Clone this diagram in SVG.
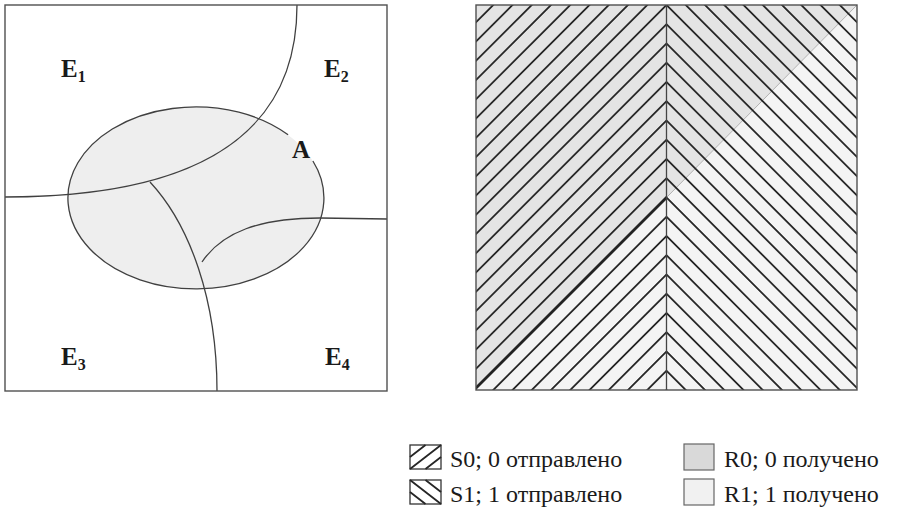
<svg xmlns="http://www.w3.org/2000/svg" width="903" height="521" viewBox="0 0 903 521">
<style>
.bd{fill:none;stroke:#505050;stroke-width:1.4}
.cv{fill:none;stroke:#404040;stroke-width:1.3}
.h{fill:none;stroke:#262626;stroke-width:1.8}
.lb{font-family:"Liberation Serif","Times New Roman",serif;font-weight:bold;font-size:25px;fill:#1a1a1a}
.sb{font-size:16px}
.lg{font-family:"Liberation Serif","Times New Roman",serif;font-size:24px;fill:#1a1a1a}
</style>
<defs>
<clipPath id="cl"><rect x="476" y="5" width="190.5" height="385"/></clipPath>
<clipPath id="cr"><rect x="666.5" y="5" width="190.5" height="385"/></clipPath>
</defs>
<rect width="903" height="521" fill="#ffffff"/>

<g id="left-panel">
<rect x="5" y="5" width="382" height="386" fill="#ffffff"/>
<ellipse id="A-fill" cx="196" cy="198" rx="128" ry="91" fill="#eeeeee"/>
<path class="cv" d="M312.9,161 A128,91 0 1 1 288.1,134.8"/>
<path class="cv" d="M297,5 C297,140 190,197 5,197"/>
<path class="cv" d="M150,182 C190,225 217,300 217,391"/>
<path class="cv" d="M202,262 C222,232 260,218 320,218 L387,219"/>
<rect class="bd" x="5" y="5" width="382" height="386"/>
<text class="lb" x="61" y="77">E<tspan class="sb" dy="5">1</tspan></text>
<text class="lb" x="324" y="77">E<tspan class="sb" dy="5">2</tspan></text>
<text class="lb" x="61" y="365">E<tspan class="sb" dy="5">3</tspan></text>
<text class="lb" x="325" y="365">E<tspan class="sb" dy="5">4</tspan></text>
<text class="lb" x="292" y="158">A</text>
</g>

<g id="right-panel">
<polygon points="476,5 857,5 476,390" fill="#e4e4e4"/>
<polygon points="857,5 857,390 476,390" fill="#f4f4f4"/>
<line x1="666.5" y1="197.5" x2="857" y2="5" stroke="#b0b0b0" stroke-width="1"/>
<path class="h" clip-path="url(#cl)" d="M656.5 400L1056.5 0M637.25 400L1037.25 0M618 400L1018 0M598.75 400L998.75 0M579.5 400L979.5 0M560.25 400L960.25 0M541 400L941 0M521.75 400L921.75 0M502.5 400L902.5 0M483.25 400L883.25 0M444.75 400L844.75 0M425.5 400L825.5 0M406.25 400L806.25 0M387 400L787 0M367.75 400L767.75 0M348.5 400L748.5 0M329.25 400L729.25 0M310 400L710 0M290.75 400L690.75 0M271.5 400L671.5 0M252.25 400L652.25 0M233 400L633 0M213.75 400L613.75 0M194.5 400L594.5 0M175.25 400L575.25 0M156 400L556 0M136.75 400L536.75 0M117.5 400L517.5 0M98.25 400L498.25 0"/>
<path clip-path="url(#cl)" d="M464 400L864 0" fill="none" stroke="#222" stroke-width="2.8"/>
<path class="h" clip-path="url(#cr)" d="M276.5 0L676.5 400M295.75 0L695.75 400M315 0L715 400M334.25 0L734.25 400M353.5 0L753.5 400M372.75 0L772.75 400M392 0L792 400M411.25 0L811.25 400M430.5 0L830.5 400M449.75 0L849.75 400M469 0L869 400M488.25 0L888.25 400M507.5 0L907.5 400M526.75 0L926.75 400M546 0L946 400M565.25 0L965.25 400M584.5 0L984.5 400M603.75 0L1003.75 400M623 0L1023 400M642.25 0L1042.25 400M661.5 0L1061.5 400M680.75 0L1080.75 400M700 0L1100 400M719.25 0L1119.25 400M738.5 0L1138.5 400M757.75 0L1157.75 400M777 0L1177 400M796.25 0L1196.25 400M815.5 0L1215.5 400M834.75 0L1234.75 400"/>
<line x1="666.5" y1="5" x2="666.5" y2="390" stroke="#444" stroke-width="1.3"/>
<rect class="bd" x="476" y="5" width="381" height="385"/>
</g>

<g id="legend">
<g id="leg-s0">
<rect x="410" y="445" width="31" height="24" fill="#fff" stroke="#333" stroke-width="1.3"/>
<path class="h" d="M410 469L441 445M410 457L425.5 445M425.5 469L441 457"/>
<text class="lg" x="450" y="467">S0; 0 отправлено</text>
</g>
<g id="leg-s1">
<rect x="410" y="480" width="31" height="24" fill="#fff" stroke="#333" stroke-width="1.3"/>
<path class="h" d="M410 480L441 504M425.5 480L441 492M410 492L425.5 504"/>
<text class="lg" x="450" y="502">S1; 1 отправлено</text>
</g>
<g id="leg-r0">
<rect x="684" y="444" width="30" height="26" fill="#d9d9d9" stroke="#666" stroke-width="1.2"/>
<text class="lg" x="724" y="467">R0; 0 получено</text>
</g>
<g id="leg-r1">
<rect x="684" y="479" width="30" height="26" fill="#f1f1f1" stroke="#666" stroke-width="1.2"/>
<text class="lg" x="724" y="502">R1; 1 получено</text>
</g>
</g>
</svg>
